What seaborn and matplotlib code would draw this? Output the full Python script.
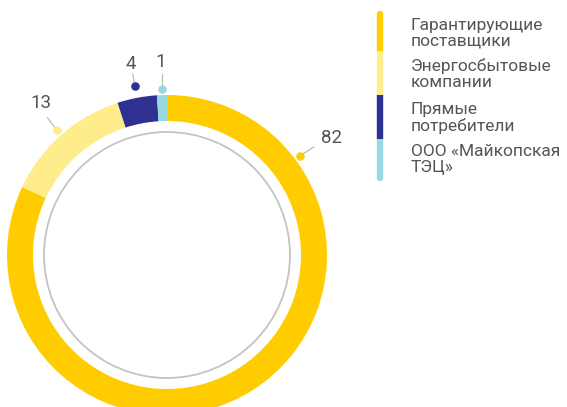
import numpy as np
import matplotlib.pyplot as plt
import seaborn as sns

# data
categories = ["Гарантирующие\nпоставщики", "Энергосбытовые\nкомпании",
              "Прямые\nпотребители", "ООО «Майкопская\nТЭЦ»"]
values = [82, 13, 4, 1]
colors = ["#FFCC00", "#FFED8C", "#2E3192", "#99D9DF"]

sns.set_theme(style="white")
plt.rcParams['font.family'] = ['Roboto', 'DejaVu Sans']
text_color = "#555555"

W, H = 567, 407
fig = plt.figure(figsize=(W / 100, H / 100), dpi=100)
ax = fig.add_axes([0, 0, 1, 1])

cx, cy = 167, H - 255
r_out, ring = 160, 26

wedges, _ = ax.pie(values, colors=colors, startangle=90, counterclock=False,
                   radius=r_out, center=(cx, cy),
                   wedgeprops=dict(width=ring, linewidth=0))

# inner thin grey circle
ax.add_patch(plt.Circle((cx, cy), 123, fill=False, color="#C4C4C4", lw=1.3))

# value labels with dots and leader lines
# (angle override, dot radius, line end offset, text offset) per slice
label_cfg = [
    (36.7, 166, (14, 9), (31, 18)),
    (None, 166, (-10, 13), (-16, 27)),
    (None, 172, (-2, 12), (-4, 22)),
    (None, 166, (0, 15), (-1, 27)),
]
for w, v, col, (ang, rd, lend, toff) in zip(wedges, values, colors, label_cfg):
    if ang is None:
        ang = (w.theta1 + w.theta2) / 2
    a = np.deg2rad(ang)
    dx, dy = cx + rd * np.cos(a), cy + rd * np.sin(a)
    ax.plot([dx, dx + lend[0]], [dy, dy + lend[1]], color="#BBBBBB", lw=0.9, zorder=3)
    ax.scatter([dx], [dy], s=38, color=col, zorder=4, linewidths=0)
    ax.text(dx + toff[0], dy + toff[1], str(v), ha="center", va="center",
            fontsize=13.5, color=text_color)

# legend: vertical coloured bar + labels
bar_x = 380
seg_top = [14, 51, 95, 139]
seg_bot = [51, 95, 139, 178]
order = [0, 3, 1, 2]
for i in order:
    cap = "round" if i in (0, 3) else "butt"
    ax.plot([bar_x, bar_x], [H - seg_top[i], H - seg_bot[i]], color=colors[i],
            lw=4.6, solid_capstyle=cap, zorder=3)
for i, lab in enumerate(categories):
    ax.text(411, H - (seg_top[i] + seg_bot[i]) / 2 - 1, lab, ha="left", va="center",
            fontsize=12.5, color=text_color, linespacing=1.05)

ax.set_xlim(0, W)
ax.set_ylim(0, H)
ax.set_aspect("equal")
ax.axis("off")

fig.savefig("out.png", dpi=100)
